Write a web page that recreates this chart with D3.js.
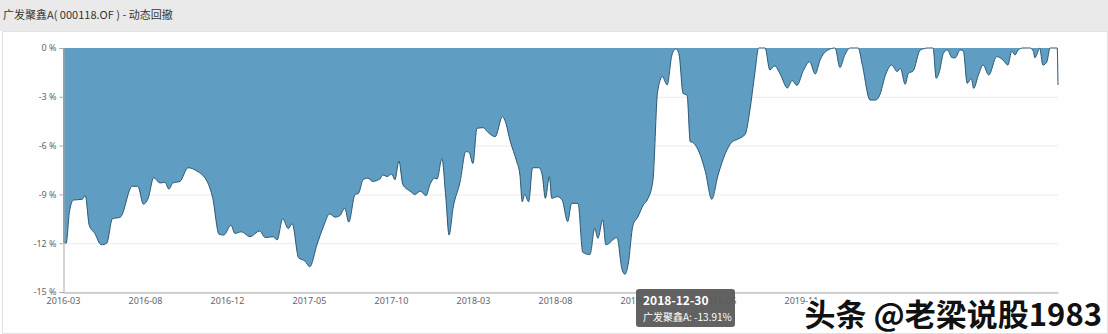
<!DOCTYPE html>
<html>
<head>
<meta charset="utf-8">
<script src="https://cdn.jsdelivr.net/npm/d3@7/dist/d3.min.js"></script>
<style>
  body { margin: 0; background: #fff; font-family: "Noto Sans CJK SC", "Noto Sans", sans-serif; }
  svg { display: block; }
</style>
</head>
<body>
<div id="chart"></div>
<script>
const w = 1108;
const h = 334;

// trading-day index (0 = 2016-03 start) and drawdown in %
const dayIndex = [0, 4, 8, 13, 24, 28, 33, 40, 48, 55, 62, 72, 87, 94, 101, 107, 114, 122, 128, 133,
  138, 147, 157, 168, 181, 188, 196, 202, 211, 216, 224, 235, 247, 254, 264, 269, 276, 283, 288, 296,
  304, 310, 319, 327, 335, 342, 348, 354, 359, 367, 371, 377, 383, 389, 398, 402, 407, 413, 417, 422,
  427, 436, 442, 449, 456, 461, 467, 470, 476, 481, 485, 490, 499, 506, 510, 515, 520, 528, 533, 543,
  552, 555, 562, 570, 574, 577, 580, 585, 590, 598, 602, 606, 611, 614, 621, 627, 634, 639, 647, 653,
  662, 668, 672, 678, 682, 696, 702, 706, 710, 716, 722, 729, 734, 741, 747, 753, 759, 765, 770, 774,
  779, 784, 788, 791, 798, 807, 815, 823, 832, 840, 848, 857, 863, 869, 874, 882, 888, 894, 901, 910,
  916, 922, 930, 938, 945, 951, 961, 970, 976, 982, 989, 999, 1004, 1014, 1021, 1026, 1033, 1041, 1048, 1052,
  1058, 1062, 1068, 1077, 1087, 1093, 1097, 1101, 1106, 1111, 1117, 1121, 1127, 1131, 1136, 1141, 1144, 1150, 1156, 1163,
  1173, 1181, 1187, 1192, 1196, 1200, 1206, 1215, 1219, 1221, 1225, 1227, 1231, 1236, 1240, 1249, 1250];

const drawdown = [-11.9, -12.0, -10.1, -9.35, -9.3, -9.08, -10.9, -11.4, -12.1, -12.0, -10.5, -10.4, -8.5, -8.5, -9.6, -9.24, -7.97, -8.3, -8.25, -8.67,
  -8.3, -8.2, -7.36, -7.56, -8.2, -9.2, -11.45, -11.5, -10.9, -11.4, -11.3, -11.6, -11.25, -11.65, -11.6, -11.8, -10.5, -11.1, -10.8, -12.9,
  -13.1, -13.45, -12.1, -11.0, -10.2, -10.4, -10.3, -9.85, -10.7, -9.0, -8.95, -8.1, -8.0, -8.2, -8.05, -7.8, -7.9, -7.75, -8.1, -6.95,
  -8.4, -8.8, -9.0, -8.8, -9.08, -8.4, -8.0, -8.05, -6.8, -9.24, -11.5, -9.85, -8.2, -6.37, -6.4, -7.1, -4.94, -4.9, -5.14, -5.45,
  -4.22, -4.43, -5.76, -6.99, -7.8, -9.45, -9.0, -9.45, -7.36, -7.36, -7.8, -9.24, -7.9, -9.24, -9.14, -9.34, -10.67, -9.55, -9.55, -12.56,
  -12.7, -11.1, -11.7, -10.57, -12.1, -11.65, -13.55, -13.91, -13.3, -10.9, -10.4, -9.65, -9.34, -8.2, -2.69, -1.76, -2.27, -0.43, -0.05, -0.43,
  -2.79, -2.9, -5.76, -5.8, -6.27, -7.6, -9.3, -7.8, -6.5, -5.8, -5.6, -5.3, -3.8, -1.6, 0, 0, -1.35, -1.1, -1.6, -2.46,
  -2.0, -2.3, -1.4, -0.85, -1.6, -0.75, -0.12, 0, -1.2, -0.45, 0, 0, -1.0, -3.2, -3.2, -2.9, -1.7, -1.05, -1.45, -1.25,
  -2.23, -1.56, -1.41, -0.12, 0, 0, -1.86, -1.45, -0.33, -0.12, -0.6, -0.6, -0.12, -0.18, -2.17, -1.86, -2.48, -1.66, -1.05, -1.66,
  -0.53, -0.74, -1.05, -0.18, -0.43, -0.12, 0, 0, -0.2, -0.6, -0.2, 0, -1.05, -0.85, 0, 0, -2.27];

const tickLabels = ["2016-03", "2016-08", "2016-12", "2017-05", "2017-10", "2018-03", "2018-08", "2019-01", "2019-06", "2019-11"];
const tickEvery = 103;
const yTicks = [0, -3, -6, -9, -12, -15];

const title = "广发聚鑫A( 000118.OF ) - 动态回撤";
const tipDate = "2018-12-30";
const tipText = "广发聚鑫A: -13.91%";
const watermark = "头条 @老梁说股1983";

let data = dayIndex.map((d, i) => ({ day: d, dd: drawdown[i] }));

let svg = d3.select("#chart")
  .append("svg")
  .attr("width", w)
  .attr("height", h);

// header band + panel
svg.append("rect").attr("x", 0).attr("y", 0).attr("width", w).attr("height", 31).attr("fill", "#eaeaea");
svg.append("rect").attr("x", 2.5).attr("y", 31.5).attr("width", w - 3).attr("height", h - 32)
  .attr("fill", "#fefefe").attr("stroke", "#e2e2e2");
svg.append("text")
  .attr("x", 3).attr("y", 19)
  .attr("font-size", "11px")
  .attr("fill", "#333")
  .text(title);

// scales
let x = d3.scaleLinear()
  .domain([0, d3.max(dayIndex)])
  .range([63, 1058]);

let y = d3.scaleLinear()
  .domain([-15, 0])
  .range([292, 48]);

// grid lines
svg.append("g")
  .selectAll("line")
  .data(yTicks.slice(1))
  .enter()
  .append("line")
  .attr("x1", 63).attr("x2", 1058)
  .attr("y1", d => y(d) + 0.5).attr("y2", d => y(d) + 0.5)
  .attr("stroke", "#ececec");

// area
let area = d3.area()
  .x(d => x(d.day))
  .y0(y(0))
  .y1(d => y(d.dd))
  .curve(d3.curveMonotoneX);

svg.append("path")
  .datum(data)
  .attr("d", area)
  .attr("fill", "#5f9ec2");

let line = d3.line()
  .x(d => x(d.day))
  .y(d => y(d.dd))
  .curve(d3.curveMonotoneX);

svg.append("path")
  .datum(data)
  .attr("d", line)
  .attr("fill", "none")
  .attr("stroke", "#2e5870")
  .attr("stroke-width", 1);

// y axis
let yAxis = svg.append("g")
  .attr("transform", "translate(63.5,0)")
  .call(d3.axisLeft(y).tickValues(yTicks).tickSize(4).tickFormat(d => d + " %"));
yAxis.select(".domain").attr("stroke", "#aaa");
yAxis.selectAll(".tick line").attr("stroke", "#aaa");
yAxis.selectAll("text").attr("fill", "#666").attr("font-size", "9px").attr("font-family", "Noto Sans, sans-serif");

// x axis
let xAxis = svg.append("g")
  .attr("transform", "translate(0,292.5)")
  .call(d3.axisBottom(x)
    .tickValues(tickLabels.map((t, i) => i * tickEvery))
    .tickSize(0)
    .tickFormat((d, i) => tickLabels[i]));
xAxis.select(".domain").attr("stroke", "#aaa");
xAxis.selectAll("text").attr("fill", "#666").attr("font-size", "9px").attr("dy", "0.9em")
  .attr("font-family", "Noto Sans, sans-serif");

// tooltip
let tip = svg.append("g").attr("transform", "translate(636,289)");
tip.append("rect").attr("width", 99).attr("height", 38).attr("rx", 3).attr("fill", "#5a5a5a").attr("opacity", 0.95);
tip.append("text").attr("x", 7).attr("y", 16).attr("fill", "#fff").attr("font-size", "12px").attr("font-weight", "bold").text(tipDate);
tip.append("text").attr("x", 7).attr("y", 32).attr("fill", "#fff").attr("font-size", "10px").text(tipText);

// watermark
svg.append("text")
  .attr("x", 1102).attr("y", 326)
  .attr("text-anchor", "end")
  .attr("font-size", "31px")
  .attr("font-weight", "bold")
  .attr("fill", "#111")
  .attr("stroke", "#fff")
  .attr("stroke-width", 3)
  .attr("paint-order", "stroke")
  .text(watermark);
</script>
</body>
</html>
